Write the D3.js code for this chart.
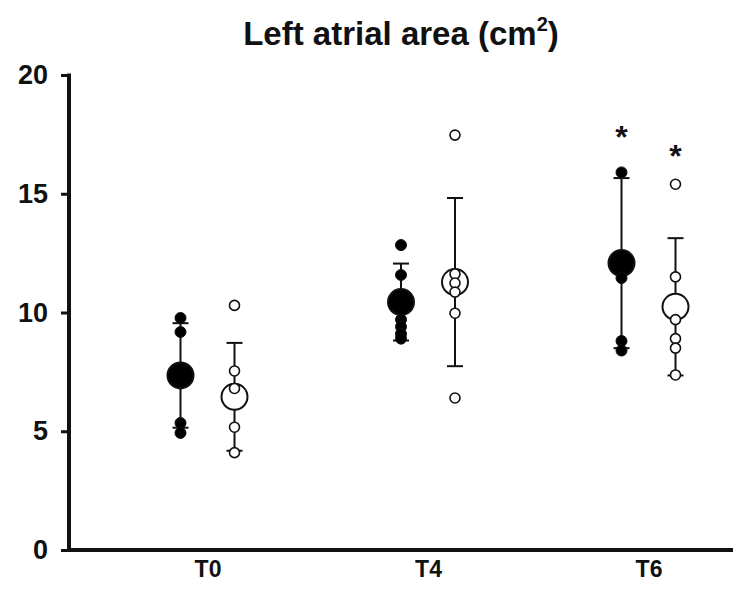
<!DOCTYPE html>
<html>
<head>
<meta charset="utf-8">
<script src="https://cdn.jsdelivr.net/npm/d3@7"></script>
<style>
  html, body { margin: 0; padding: 0; background: #fff; }
  svg { display: block; font-family: "Liberation Sans", Arial, sans-serif; }
</style>
</head>
<body>
<svg id="chart" width="744" height="590"></svg>
<script>
// ---- data ----
const categories = ["T0", "T4", "T6"];
const yTicks = [0, 5, 10, 15, 20];

// filled (black) group
const meanFilled = [7.35, 10.44, 12.08];
const sdFilled = [2.2, 1.62, 3.58];
const pointsFilled = [
  [9.77, 9.18, 5.35, 4.93],
  [12.84, 11.58, 9.7, 9.4, 9.1, 8.9],
  [15.9, 11.45, 8.8, 8.4]
];
const asteriskFilled = [null, null, 17.7];

// open (white) group
const meanOpen = [6.45, 11.28, 10.24];
const sdOpen = [2.27, 3.54, 2.89];
const pointsOpen = [
  [10.3, 7.54, 6.8, 5.17, 4.1],
  [17.47, 11.62, 11.24, 10.86, 9.97, 6.4],
  [15.4, 11.5, 9.7, 8.9, 8.5, 7.37]
];
const asteriskOpen = [null, null, 16.9];

// ---- layout ----
const svg = d3.select("#chart");
const yAxisX = 69, xAxisY = 550, xAxisEnd = 733;

const y = d3.scaleLinear().domain([0, 20]).range([550, 75]);
const x = d3.scalePoint().domain(categories).range([207.5, 648.5]);
const offFilled = -27, offOpen = 27;

// title
const title = svg.append("text")
  .attr("x", 401).attr("y", 45)
  .attr("text-anchor", "middle")
  .attr("font-weight", "bold")
  .attr("font-size", 33)
  .attr("fill", "#111");
title.append("tspan").text("Left atrial area (cm");
title.append("tspan").attr("font-size", 20).attr("dy", -14).text("2");
title.append("tspan").attr("dy", 14).text(")");

// y axis
const yAxis = d3.axisLeft(y).tickValues(yTicks).tickSize(8).tickPadding(13).tickFormat(d3.format("d"));
const gy = svg.append("g").attr("transform", `translate(${yAxisX},0)`).call(yAxis);
gy.select(".domain").remove();
gy.selectAll(".tick line").attr("stroke", "#111").attr("stroke-width", 3);
gy.selectAll(".tick text").attr("font-size", 27).attr("font-weight", "bold").attr("fill", "#111")
  .attr("font-family", "'Liberation Sans', Arial, sans-serif");
svg.append("line").attr("x1", yAxisX).attr("x2", yAxisX).attr("y1", y(20) - 1.5).attr("y2", xAxisY + 2)
  .attr("stroke", "#111").attr("stroke-width", 4);

// x axis
const xAxis = d3.axisBottom(x).tickSize(0).tickPadding(11);
const gx = svg.append("g").attr("transform", `translate(0,${xAxisY})`).call(xAxis);
gx.select(".domain").remove();
gx.selectAll(".tick text").attr("font-size", 23).attr("font-weight", "bold").attr("fill", "#111")
  .attr("font-family", "'Liberation Sans', Arial, sans-serif");
svg.append("line").attr("x1", yAxisX - 2).attr("x2", xAxisEnd).attr("y1", xAxisY).attr("y2", xAxisY)
  .attr("stroke", "#111").attr("stroke-width", 4);

// series drawing
function drawSeries(means, sds, points, asterisks, off, filled) {
  const g = svg.append("g");
  const cx = (i) => x(categories[i]) + off;
  const capW = 8;
  categories.forEach((c, i) => {
    const top = means[i] + sds[i], bot = means[i] - sds[i];
    g.append("line").attr("x1", cx(i)).attr("x2", cx(i)).attr("y1", y(top)).attr("y2", y(bot))
      .attr("stroke", "#111").attr("stroke-width", 2);
    [top, bot].forEach(v => {
      g.append("line").attr("x1", cx(i) - capW).attr("x2", cx(i) + capW).attr("y1", y(v)).attr("y2", y(v))
        .attr("stroke", "#111").attr("stroke-width", 2);
    });
    g.append("circle").attr("cx", cx(i)).attr("cy", y(means[i])).attr("r", 13)
      .attr("fill", filled ? "#000" : "#fff").attr("stroke", "#111").attr("stroke-width", 2);
    points[i].forEach(v => {
      g.append("circle").attr("cx", cx(i)).attr("cy", y(v)).attr("r", filled ? 5.5 : 5)
        .attr("fill", filled ? "#000" : "#fff").attr("stroke", "#111").attr("stroke-width", filled ? 1 : 1.6);
    });
    if (asterisks[i] != null) {
      g.append("text").attr("x", cx(i)).attr("y", y(asterisks[i]) + 18)
        .attr("text-anchor", "middle").attr("font-size", 32).attr("font-weight", "bold")
        .attr("fill", "#111").text("*");
    }
  });
}
drawSeries(meanFilled, sdFilled, pointsFilled, asteriskFilled, offFilled, true);
drawSeries(meanOpen, sdOpen, pointsOpen, asteriskOpen, offOpen, false);
</script>
</body>
</html>
